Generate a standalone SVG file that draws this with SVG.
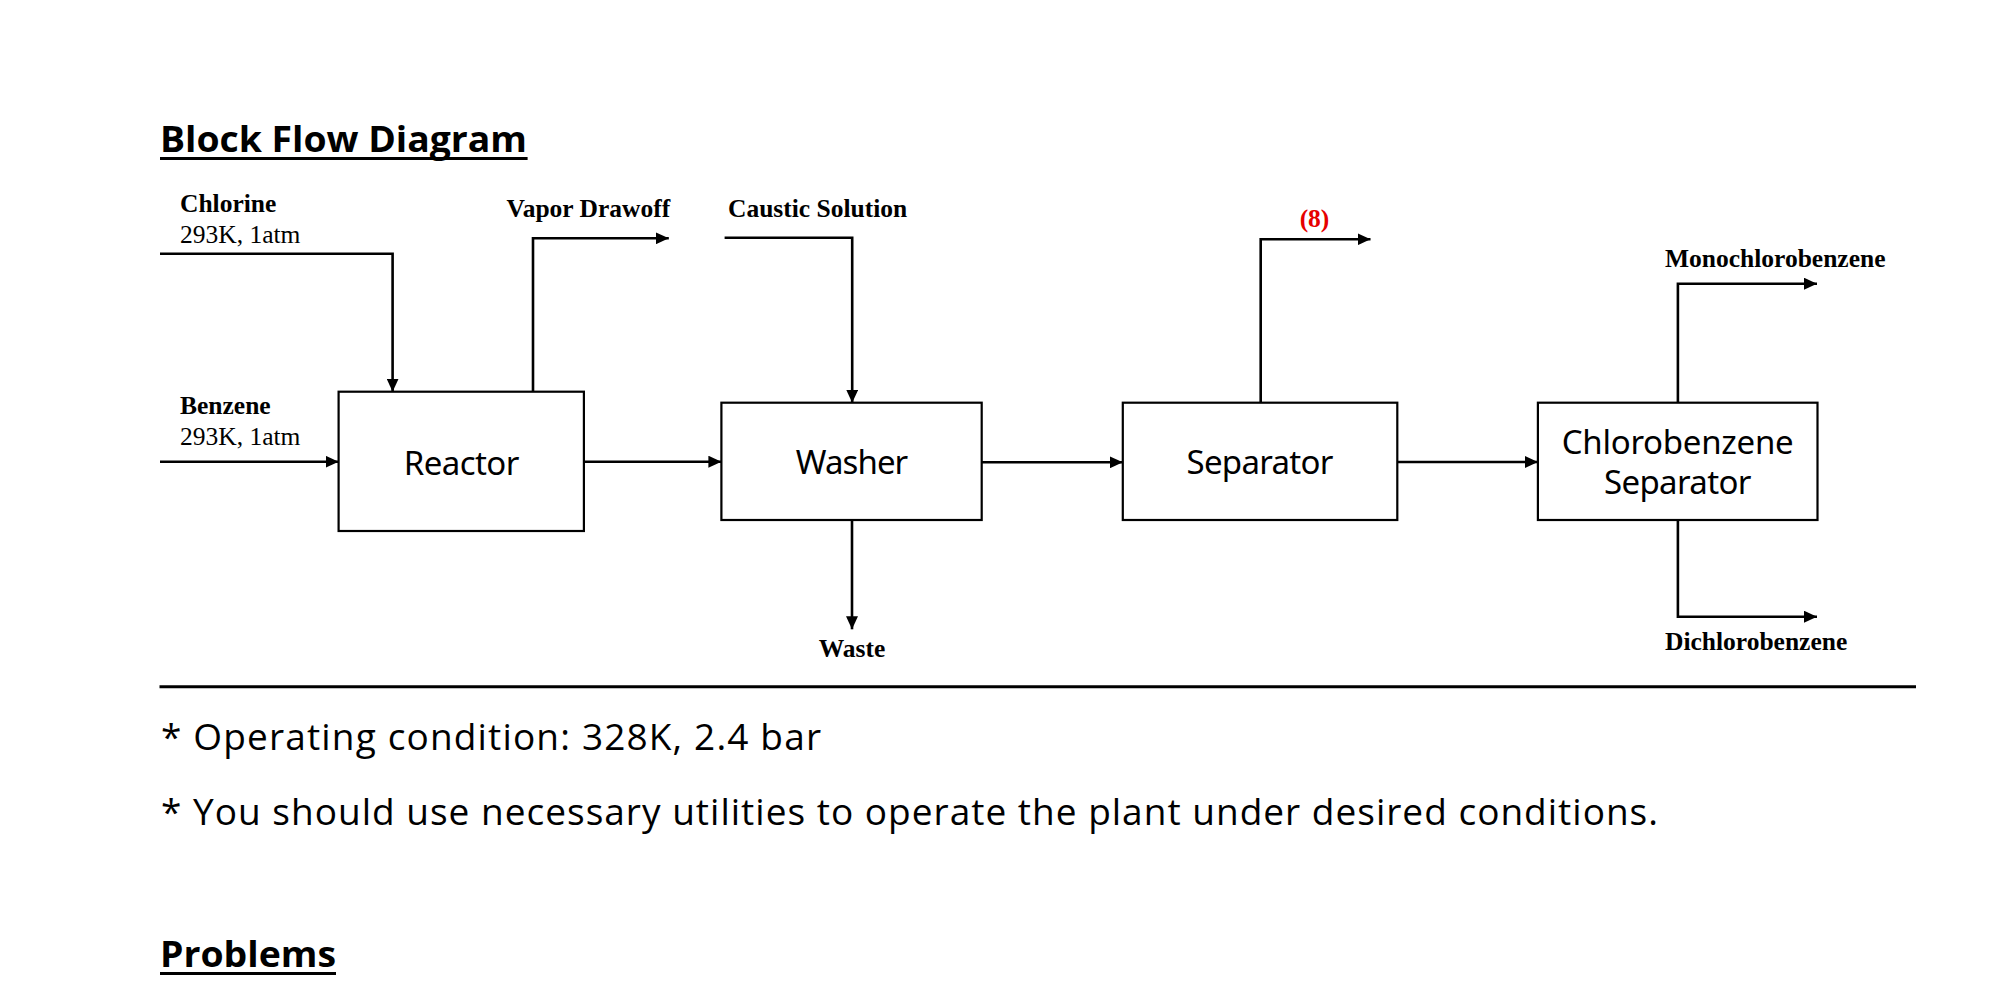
<svg xmlns="http://www.w3.org/2000/svg" width="1995" height="999" viewBox="0 0 1995 999">
<style>
.bg{fill:#ffffff}
.box{fill:#ffffff;stroke:#000;stroke-width:2.2}
.lbl{font-family:"Liberation Serif","Times New Roman",serif;font-size:25.5px;fill:#000}
.b{font-weight:bold}
.red{fill:#e60000}
.unit{font-family:"Noto Sans","Open Sans","DejaVu Sans",sans-serif;font-size:33px;fill:#000;text-anchor:middle}
.head{font-family:"Open Sans",Lato,sans-serif;font-weight:bold;font-size:36px;fill:#000;font-variant-ligatures:none}
.body{font-family:"Open Sans",Lato,sans-serif;font-size:37px;fill:#000;font-variant-ligatures:none}
.conn path{fill:none;stroke:#000;stroke-width:2.6}
.rule{stroke:#000}
</style>
<defs>
<marker id="arr" markerUnits="userSpaceOnUse" markerWidth="14" markerHeight="12" refX="13" refY="6" orient="auto">
<path d="M0,0 L13,6 L0,12 z" fill="#000"/>
</marker>
</defs>
<rect class="bg" x="0" y="0" width="1995" height="999"/>

<g id="title">
<text class="head" x="160" y="151.7" textLength="367" lengthAdjust="spacingAndGlyphs">Block Flow Diagram</text>
<line class="rule" x1="160" y1="158.5" x2="527.6" y2="158.5" stroke-width="3"/>
</g>

<g id="connectors" class="conn">
<path d="M160,253.7 H392.6 V391.7" marker-end="url(#arr)"/>
<path d="M160,461.7 H338.6" marker-end="url(#arr)"/>
<path d="M533,391.7 V238.3 H668.8" marker-end="url(#arr)"/>
<path d="M583.9,461.7 H721.4" marker-end="url(#arr)"/>
<path d="M724.6,237.7 H852.2 V402.7" marker-end="url(#arr)"/>
<path d="M981.7,462.3 H1122.8" marker-end="url(#arr)"/>
<path d="M852,520 V629.3" marker-end="url(#arr)"/>
<path d="M1260.7,402.7 V239.3 H1370.5" marker-end="url(#arr)"/>
<path d="M1397.3,462 H1537.9" marker-end="url(#arr)"/>
<path d="M1677.9,402.7 V283.7 H1817" marker-end="url(#arr)"/>
<path d="M1677.9,520 V616.7 H1817" marker-end="url(#arr)"/>
</g>

<g id="reactor">
<rect class="box" x="338.6" y="391.7" width="245.3" height="139.3"/>
<text class="unit" x="461.5" y="475" textLength="115.6">Reactor</text>
</g>
<g id="washer">
<rect class="box" x="721.4" y="402.7" width="260.3" height="117.3"/>
<text class="unit" x="852" y="474" textLength="112.5">Washer</text>
</g>
<g id="separator">
<rect class="box" x="1122.8" y="402.7" width="274.5" height="117.3"/>
<text class="unit" x="1260" y="474" textLength="147">Separator</text>
</g>
<g id="chlorobenzene-separator">
<rect class="box" x="1537.9" y="402.7" width="279.6" height="117.3"/>
<text class="unit" x="1677.7" y="454" textLength="232">Chlorobenzene</text>
<text class="unit" x="1677.7" y="494" textLength="147.5">Separator</text>
</g>

<g id="stream-labels">
<text class="lbl b" x="180" y="211.7">Chlorine</text>
<text class="lbl" x="180" y="242.7">293K, 1atm</text>
<text class="lbl b" x="180" y="414.3">Benzene</text>
<text class="lbl" x="180" y="445">293K, 1atm</text>
<text class="lbl b" x="506.6" y="217.3">Vapor Drawoff</text>
<text class="lbl b" x="728" y="217.3">Caustic Solution</text>
<text class="lbl b red" x="1314.5" y="226.7" text-anchor="middle">(8)</text>
<text class="lbl b" x="852" y="656.7" text-anchor="middle">Waste</text>
<text class="lbl b" x="1665" y="267.3">Monochlorobenzene</text>
<text class="lbl b" x="1665" y="650">Dichlorobenzene</text>
</g>

<g id="notes">
<line class="rule" x1="159.5" y1="686.7" x2="1916" y2="686.7" stroke-width="3"/>
<text class="body" x="161" y="750" textLength="660">* Operating condition: 328K, 2.4 bar</text>
<text class="body" x="161" y="825" textLength="1497">* You should use necessary utilities to operate the plant under desired conditions.</text>
<text class="head" x="160" y="966.7" textLength="176" lengthAdjust="spacingAndGlyphs">Problems</text>
<line class="rule" x1="160" y1="973.5" x2="336" y2="973.5" stroke-width="3"/>
</g>
</svg>
